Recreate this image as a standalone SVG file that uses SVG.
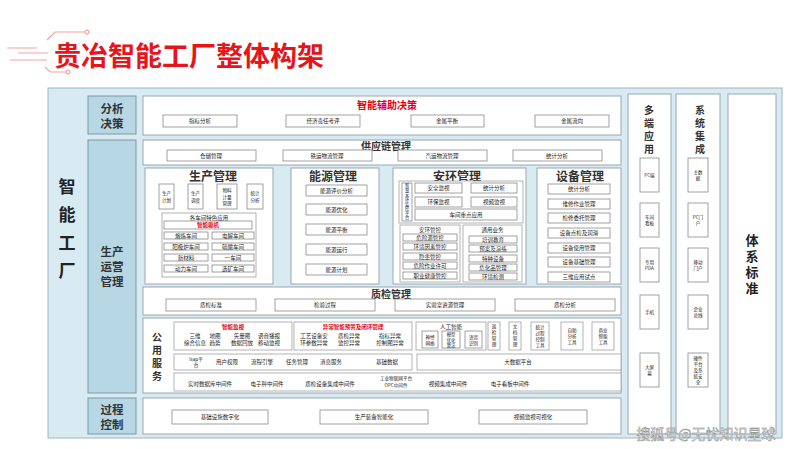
<svg xmlns="http://www.w3.org/2000/svg" width="800" height="449" viewBox="0 0 800 449">
<style>
text{font-family:"Noto Sans CJK SC","Noto Sans",sans-serif;text-anchor:middle;dominant-baseline:central;fill:#222}
.frame{fill:#d8ebf2;stroke:#9fb4be;stroke-width:1}
.col{fill:#b7d7e5;stroke:#7f98a6;stroke-width:1}
.panel{fill:#fff;stroke:#98a8b0;stroke-width:1}
.item{fill:#fff;stroke:#8a8a8a;stroke-width:0.8}
.sub{fill:#fff;stroke:#a0a0a0;stroke-width:0.8}
.s{font-size:5.5px}
.v{font-size:4.6px}
.h{font-size:11.5px;font-weight:bold;fill:#333}
.h1{font-size:12px;font-weight:bold;fill:#333}
.h2{font-size:10px;font-weight:bold;fill:#333}
.c{font-size:10px;font-weight:bold;fill:#333;writing-mode:vertical-rl;letter-spacing:3px}
.big{font-size:17px;font-weight:bold;fill:#222}
.std{font-size:13px;font-weight:bold;fill:#222;writing-mode:vertical-rl;letter-spacing:3px}
.red{fill:#e60012;font-weight:bold}
.deco{fill:none;stroke:#f2a4a4;stroke-width:1.2}
</style>
<rect x="0" y="0" width="800" height="449" fill="#fff"/>
<g id="title">
<path class="deco" d="M47 40 L55 32 L85 32"/><circle cx="87" cy="32" r="2" fill="#fff" stroke="#f08a8a"/>
<path class="deco" d="M7 48 H37 M18 53 H48 M10 60 H47"/>
<path class="deco" d="M45 67 L50 72 H66"/><circle cx="68" cy="72" r="2" fill="#fff" stroke="#f08a8a"/>
<text x="189" y="54" style="font-size:27px;font-weight:bold;fill:#e8141c">贵冶智能工厂整体构架</text>
</g>
<rect class="frame" x="48" y="88" width="734" height="350"/>
<g id="zhinenggongchang">
<text class="big" x="67" y="185"><tspan x="67">智</tspan><tspan x="67" dy="28">能</tspan><tspan x="67" dy="28">工</tspan><tspan x="67" dy="28">厂</tspan></text>
</g>
<g id="fenxijuece"><rect class="col" x="88" y="96" width="48" height="38"/><text class="h" x="112" y="108"><tspan x="112">分析</tspan><tspan x="112" dy="15">决策</tspan></text></g>
<g id="shengchanyunying"><rect class="col" x="88" y="140" width="48" height="253"/><text class="h" x="112" y="251"><tspan x="112">生产</tspan><tspan x="112" dy="15">运营</tspan><tspan x="112" dy="15">管理</tspan></text></g>
<g id="guochengkongzhi"><rect class="col" x="88" y="398" width="48" height="36"/><text class="h" x="112" y="408.5"><tspan x="112">过程</tspan><tspan x="112" dy="15">控制</tspan></text></g>

<g id="fuzhujuece">
<rect class="panel" x="143" y="96" width="478" height="39"/>
<text class="red" x="387" y="104" style="font-size:10px">智能辅助决策</text>
<rect class="item" x="163" y="115" width="74" height="12"/><text class="s" x="200" y="121">指标分析</text>
<rect class="item" x="286" y="115" width="74" height="12"/><text class="s" x="323" y="121">经济责任考评</text>
<rect class="item" x="411" y="115" width="73" height="12"/><text class="s" x="447" y="121">金属平衡</text>
<rect class="item" x="535" y="115" width="74" height="12"/><text class="s" x="572" y="121">金属流向</text>
</g>
<g id="gongyinglian">
<rect class="panel" x="143" y="140" width="478" height="25"/>
<text class="h2" x="386" y="145">供应链管理</text>
<rect class="item" x="167" y="150" width="89" height="11"/><text class="s" x="211" y="155.5">仓储管理</text>
<rect class="item" x="283" y="150" width="89" height="11"/><text class="s" x="327" y="155.5">铁运物流管理</text>
<rect class="item" x="398" y="150" width="89" height="11"/><text class="s" x="442" y="155.5">汽运物流管理</text>
<rect class="item" x="513" y="150" width="89" height="11"/><text class="s" x="557" y="155.5">统计分析</text>
</g>
<g id="shengchanguanli">
<rect class="panel" x="145" y="168" width="128" height="116"/>
<text class="h1" x="213" y="175">生产管理</text>
<rect class="item" x="159" y="184" width="15" height="25"/><text class="v" x="166.5" y="193"><tspan x="166.5">生产</tspan><tspan x="166.5" dy="7">计划</tspan></text>
<rect class="item" x="188" y="184" width="15" height="25"/><text class="v" x="195.5" y="193"><tspan x="195.5">生产</tspan><tspan x="195.5" dy="7">调度</tspan></text>
<rect class="item" x="217" y="184" width="20" height="25"/><text class="v" x="227" y="190"><tspan x="227">物料</tspan><tspan x="227" dy="6.5">计量</tspan><tspan x="227" dy="6.5">管理</tspan></text>
<rect class="item" x="247" y="184" width="16" height="25"/><text class="v" x="255" y="193"><tspan x="255">统计</tspan><tspan x="255" dy="7">分析</tspan></text>
<rect class="sub" x="162" y="213" width="94" height="64"/>
<text class="s" x="209" y="217.5">各车间特色应用</text>
<rect class="item" x="164" y="221" width="88" height="8"/><text class="s red" x="208" y="225">智能驱机</text>
<rect class="item" x="164" y="232" width="44" height="7"/><text class="s" x="186" y="235.5">熔炼车间</text>
<rect class="item" x="212" y="232" width="42" height="7"/><text class="s" x="233" y="235.5">电解车间</text>
<rect class="item" x="164" y="243" width="44" height="7"/><text class="s" x="186" y="246.5">阳极炉车间</text>
<rect class="item" x="212" y="243" width="42" height="7"/><text class="s" x="233" y="246.5">硫酸车间</text>
<rect class="item" x="164" y="254" width="44" height="7"/><text class="s" x="186" y="257.5">新材料</text>
<rect class="item" x="212" y="254" width="42" height="7"/><text class="s" x="233" y="257.5">一车间</text>
<rect class="item" x="164" y="265" width="44" height="7"/><text class="s" x="186" y="268.5">动力车间</text>
<rect class="item" x="212" y="265" width="42" height="7"/><text class="s" x="233" y="268.5">选矿车间</text>
</g>
<g id="nengyuanguanli">
<rect class="panel" x="291" y="168" width="88" height="116"/>
<text class="h1" x="333" y="175">能源管理</text>
<rect class="item" x="306" y="185" width="61" height="11"/><text class="s" x="336.5" y="190.5">能源评价分析</text>
<rect class="item" x="306" y="204" width="61" height="11"/><text class="s" x="336.5" y="209.5">能源优化</text>
<rect class="item" x="306" y="224" width="61" height="11"/><text class="s" x="336.5" y="229.5">能源平衡</text>
<rect class="item" x="306" y="244" width="61" height="11"/><text class="s" x="336.5" y="249.5">能源运行</text>
<rect class="item" x="306" y="264" width="61" height="11"/><text class="s" x="336.5" y="269.5">能源计划</text>
</g>
<g id="anhuanguanli">
<rect class="panel" x="393" y="168" width="133" height="116"/>
<text class="h1" x="457" y="175">安环管理</text>
<rect class="sub" x="399" y="181" width="124" height="42"/>
<rect class="item" x="402" y="183" width="10" height="38"/>
<text x="407" y="202" style="font-size:4.2px;writing-mode:vertical-rl;letter-spacing:0.4px">智慧安环监控平台</text>
<rect class="item" x="415" y="183" width="47" height="10"/><text class="s" x="438.5" y="188">安全监视</text>
<rect class="item" x="471" y="183" width="46" height="10"/><text class="s" x="494" y="188">统计分析</text>
<rect class="item" x="415" y="197" width="47" height="10"/><text class="s" x="438.5" y="202">环保监视</text>
<rect class="item" x="471" y="197" width="46" height="10"/><text class="s" x="494" y="202">视频监视</text>
<rect class="item" x="415" y="209" width="102" height="11"/><text class="s" x="466" y="214.5">车间重点应用</text>
<rect class="sub" x="400" y="225" width="60" height="57"/>
<text class="s" x="430" y="229.5">安环管控</text>
<rect class="item" x="403" y="234" width="54" height="7"/><text class="s" x="430" y="237.5">危险源管控</text>
<rect class="item" x="403" y="243" width="54" height="7"/><text class="s" x="430" y="246.5">环境因素管控</text>
<rect class="item" x="403" y="253" width="54" height="7"/><text class="s" x="430" y="256.5">隐患管控</text>
<rect class="item" x="403" y="262" width="54" height="7"/><text class="s" x="430" y="265.5">危险作业许可</text>
<rect class="item" x="403" y="272" width="54" height="7"/><text class="s" x="430" y="275.5">职业健康管控</text>
<rect class="sub" x="463" y="225" width="59" height="57"/>
<text class="s" x="492.5" y="229.5">通用业务</text>
<rect class="item" x="469" y="236" width="48" height="7"/><text class="s" x="493" y="239.5">培训教育</text>
<rect class="item" x="469" y="245" width="48" height="7"/><text class="s" x="493" y="248.5">预案及演练</text>
<rect class="item" x="469" y="255" width="48" height="7"/><text class="s" x="493" y="258.5">特种设备</text>
<rect class="item" x="469" y="264" width="48" height="7"/><text class="s" x="493" y="267.5">危化品管理</text>
<rect class="item" x="469" y="273" width="48" height="7"/><text class="s" x="493" y="276.5">环境检测</text>
</g>
<g id="shebeiguanli">
<rect class="panel" x="537" y="168" width="84" height="116"/>
<text class="h1" x="580" y="175">设备管理</text>
<rect class="item" x="548" y="184" width="62" height="10"/><text class="s" x="579" y="189">统计分析</text>
<rect class="item" x="548" y="199" width="62" height="10"/><text class="s" x="579" y="204">维修作业管理</text>
<rect class="item" x="548" y="213" width="62" height="10"/><text class="s" x="579" y="218">检修委托管理</text>
<rect class="item" x="548" y="228" width="62" height="10"/><text class="s" x="579" y="233">设备点检及润滑</text>
<rect class="item" x="548" y="243" width="62" height="10"/><text class="s" x="579" y="248">设备使用管理</text>
<rect class="item" x="548" y="257" width="62" height="10"/><text class="s" x="579" y="262">设备基础管理</text>
<rect class="item" x="548" y="272" width="62" height="10"/><text class="s" x="579" y="277">三维应用试点</text>
</g>
<g id="zhijianguanli">
<rect class="panel" x="143" y="287" width="478" height="28"/>
<text class="h2" x="391" y="293">质检管理</text>
<rect class="item" x="166" y="299" width="90" height="12"/><text class="s" x="211" y="305">质检标准</text>
<rect class="item" x="275" y="299" width="100" height="12"/><text class="s" x="325" y="305">检验过程</text>
<rect class="item" x="395" y="299" width="100" height="12"/><text class="s" x="445" y="305">实验室资源管理</text>
<rect class="item" x="515" y="299" width="100" height="12"/><text class="s" x="565" y="305">质检分析</text>
</g>
<g id="gongyongfuwu">
<rect class="panel" x="143" y="318" width="478" height="75"/>
<text class="c" x="157" y="358">公用服务</text>
<rect class="sub" x="174" y="322" width="118" height="28"/>
<text class="s red" x="233" y="327">智能监视</text>
<text class="s" x="195" y="336"><tspan x="195">三维</tspan><tspan x="195" dy="7.2">综合信息</tspan></text>
<text class="s" x="215" y="336"><tspan x="215">地图</tspan><tspan x="215" dy="7.2">趋势</tspan></text>
<text class="s" x="242" y="336"><tspan x="242">矢量图</tspan><tspan x="242" dy="7.2">数据回放</tspan></text>
<text class="s" x="269" y="336"><tspan x="269">语音播报</tspan><tspan x="269" dy="7.2">移动监视</tspan></text>
<rect class="sub" x="294" y="322" width="118" height="28"/>
<text class="s red" x="353" y="327">异常智能预警及闭环管理</text>
<text class="s" x="314" y="336"><tspan x="314">工艺设备安</tspan><tspan x="314" dy="7.2">环参数异常</tspan></text>
<text class="s" x="349" y="336"><tspan x="349">质检异常</tspan><tspan x="349" dy="7.2">监控异常</tspan></text>
<text class="s" x="390" y="336"><tspan x="390">指标异常</tspan><tspan x="390" dy="7.2">控制图异常</tspan></text>
<rect class="sub" x="416" y="322" width="70" height="28"/>
<text class="s" x="451" y="327">人工智能</text>
<rect class="item" x="422" y="331" width="16" height="17"/><text class="v" x="430" y="336.5"><tspan x="430">神经</tspan><tspan x="430" dy="6">网络</tspan></text>
<rect class="item" x="442" y="331" width="18" height="17"/><text x="451" y="333.8" style="font-size:4.3px"><tspan x="451">模型</tspan><tspan x="451" dy="5.7">优化</tspan><tspan x="451" dy="5.7">算法</tspan></text>
<rect class="item" x="465" y="331" width="17" height="17"/><text class="v" x="473.5" y="336.5"><tspan x="473.5">语音</tspan><tspan x="473.5" dy="6">识别</tspan></text>
<rect class="sub" x="488" y="322" width="12" height="28"/>
<text x="494" y="336" style="font-size:4.6px;writing-mode:vertical-rl;letter-spacing:1.4px">巡检管理</text>
<rect class="sub" x="509" y="322" width="12" height="28"/>
<text x="515" y="336" style="font-size:4.6px;writing-mode:vertical-rl;letter-spacing:1.4px">文档管理</text>
<rect class="sub" x="531" y="322" width="18" height="28"/>
<text class="v" x="540" y="327"><tspan x="540">统计</tspan><tspan x="540" dy="6">过程</tspan><tspan x="540" dy="6">控制</tspan><tspan x="540" dy="6">工具</tspan></text>
<rect class="sub" x="561" y="322" width="22" height="28"/>
<text class="v" x="572" y="330"><tspan x="572">自助</tspan><tspan x="572" dy="6">分析</tspan><tspan x="572" dy="6">工具</tspan></text>
<rect class="sub" x="592" y="322" width="22" height="28"/>
<text class="v" x="603" y="330"><tspan x="603">商业</tspan><tspan x="603" dy="6">智能</tspan><tspan x="603" dy="6">工具</tspan></text>
<rect class="sub" x="174" y="354" width="238" height="16"/>
<text class="v" x="196" y="359"><tspan x="196">Isap平</tspan><tspan x="196" dy="6">台</tspan></text>
<text class="s" x="227" y="362">用户权限</text>
<text class="s" x="262" y="362">流程引擎</text>
<text class="s" x="297" y="362">任务管理</text>
<text class="s" x="331" y="362">消息服务</text>
<text class="s" x="387" y="362">基础数据</text>
<rect class="sub" x="417" y="354" width="204" height="16"/>
<text class="s" x="518" y="362">大数据平台</text>
<rect class="sub" x="174" y="373" width="447" height="18"/>
<text class="s" x="210" y="384">实时数据库中间件</text>
<text class="s" x="267" y="384">电子秤中间件</text>
<text class="s" x="330" y="384">质检设备集成中间件</text>
<text class="v" x="396" y="378"><tspan x="396">工业物联网平台</tspan><tspan x="396" dy="6.5">OPC中间件</tspan></text>
<text class="s" x="448" y="384">视频集成中间件</text>
<text class="s" x="510" y="384">电子看板中间件</text>
</g>
<g id="guocheng">
<rect class="panel" x="143" y="398" width="478" height="36"/>
<rect class="item" x="172" y="410" width="96" height="14"/><text class="s" x="220" y="417">基础设施数字化</text>
<rect class="item" x="320" y="410" width="108" height="14"/><text class="s" x="374" y="417">生产装备智能化</text>
<rect class="item" x="479" y="410" width="108" height="14"/><text class="s" x="533" y="417">视频监视可视化</text>
</g>
<g id="duoduanyingyong">
<rect class="panel" x="628" y="94" width="43" height="340"/>
<text class="c" x="649" y="131">多端应用</text>
<rect class="item" x="640" y="158" width="19" height="34"/><text class="v" x="649.5" y="175">PC端</text>
<rect class="item" x="640" y="203" width="19" height="34"/><text class="v" x="649.5" y="217"><tspan x="649.5">车间</tspan><tspan x="649.5" dy="6">看板</tspan></text>
<rect class="item" x="640" y="248" width="19" height="34"/><text class="v" x="649.5" y="262"><tspan x="649.5">专用</tspan><tspan x="649.5" dy="6">PDA</tspan></text>
<rect class="item" x="640" y="295" width="19" height="34"/><text class="v" x="649.5" y="312">手机</text>
<rect class="item" x="640" y="353" width="19" height="34"/><text class="v" x="649.5" y="367"><tspan x="649.5">大屏</tspan><tspan x="649.5" dy="6">幕</tspan></text>
</g>
<g id="xitongjicheng">
<rect class="panel" x="676" y="94" width="44" height="340"/>
<text class="c" x="700" y="131">系统集成</text>
<rect class="item" x="688" y="158" width="20" height="34"/><text class="v" x="698" y="172"><tspan x="698">主数</tspan><tspan x="698" dy="6">据</tspan></text>
<rect class="item" x="688" y="203" width="20" height="34"/><text class="v" x="698" y="217"><tspan x="698">PC门</tspan><tspan x="698" dy="6">户</tspan></text>
<rect class="item" x="688" y="248" width="20" height="34"/><text class="v" x="698" y="262"><tspan x="698">移动</tspan><tspan x="698" dy="6">门户</tspan></text>
<rect class="item" x="688" y="295" width="20" height="34"/><text class="v" x="698" y="309"><tspan x="698">企业</tspan><tspan x="698" dy="6">总线</tspan></text>
<rect class="item" x="688" y="353" width="20" height="34"/><text class="v" x="698" y="358"><tspan x="698">硬件</tspan><tspan x="698" dy="6">平台</tspan><tspan x="698" dy="6">及系</tspan><tspan x="698" dy="6">统安</tspan><tspan x="698" dy="6">全</tspan></text>
</g>
<g id="tixibiaozhun">
<rect class="panel" x="728" y="94" width="48" height="340"/>
<text class="std" x="752" y="266">体系标准</text>
</g>
<g id="connectors"></g>
<text x="706" y="433" style="font-size:14px;fill:#fff;stroke:#888;stroke-width:0.5">搜狐号@无忧知识星球</text>
</svg>
